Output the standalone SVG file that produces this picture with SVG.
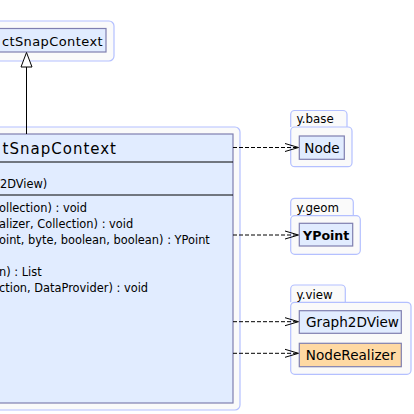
<svg xmlns="http://www.w3.org/2000/svg" width="414" height="414" viewBox="0 0 414 414">
<defs>
<style>
.pkg{fill:#fafafa;stroke:#b4c0ff;stroke-width:1.2}
.cls{fill:#e1ecff;stroke:#7f7fb0;stroke-width:1.2}
.rl{fill:#ffd9a3;stroke:#7f7fb0;stroke-width:1.2}
.sep{stroke:#000;stroke-width:1}
.t{font-family:"DejaVu Sans",sans-serif;fill:#000}
.m{font-size:11.4px}
.n{font-size:13.6px}
.p{font-size:11.8px}
.dep{fill:none;stroke:#000;stroke-width:1;stroke-dasharray:4,2}
.ah{fill:none;stroke:#000;stroke-width:1}
</style>
</defs>
<g id="pkg-top">
<rect class="pkg" x="-10" y="21" width="124" height="40" rx="5"/>
<g id="AbstractSnapContext">
<rect class="cls" x="-10" y="28.5" width="116" height="23.5"/>
<text class="t" x="103" y="46" font-size="13" text-anchor="end" letter-spacing="0.4">ctSnapContext</text>
</g>
</g>
<g id="pkg-main">
<rect class="pkg" x="-10" y="127" width="250" height="283" rx="5"/>
<g id="SnapContext">
<rect class="cls" x="-10" y="134" width="243" height="269"/>
<text class="t" x="117" y="154" font-size="15" text-anchor="end" letter-spacing="1">tSnapContext</text>
<line class="sep" x1="-10" y1="162" x2="233" y2="162"/>
<text class="t m" x="0" y="188">2DView)</text>
<line class="sep" x1="-10" y1="195" x2="233" y2="195"/>
<text class="t m" x="-1" y="212">ollection) : void</text>
<text class="t m" x="-1" y="228">alizer, Collection) : void</text>
<text class="t m" x="-1" y="244">oint, byte, boolean, boolean) : YPoint</text>
<text class="t m" x="-1" y="276">n) : List</text>
<text class="t m" x="-1" y="292">ction, DataProvider) : void</text>
</g>
</g>
<g id="pkg-ybase">
<path class="pkg" d="M290.7,127 V114.5 a4,4 0 0 1 4,-4 H343 a4,4 0 0 1 4,4 V127"/>
<rect class="pkg" x="290.7" y="127" width="61.3" height="39.7" rx="4"/>
<text class="t p" x="296.5" y="123">y.base</text>
<g id="Node">
<rect class="cls" x="299.3" y="136" width="45" height="23.3"/>
<text class="t n" x="322" y="152.5" text-anchor="middle">Node</text>
</g>
</g>
<g id="pkg-ygeom">
<path class="pkg" d="M290.7,215.7 V202.3 a4,4 0 0 1 4,-4 H349.3 a4,4 0 0 1 4,4 V215.7"/>
<rect class="pkg" x="290.7" y="215.7" width="69.6" height="38.6" rx="4"/>
<text class="t p" x="296.5" y="211.5">y.geom</text>
<g id="YPoint">
<rect class="cls" x="299.3" y="223.3" width="53.4" height="22.7"/>
<text class="t" x="326.2" y="239.5" font-size="12.6" text-anchor="middle" font-weight="bold">YPoint</text>
</g>
</g>
<g id="pkg-yview">
<path class="pkg" d="M290.7,302.3 V289 a4,4 0 0 1 4,-4 H341.3 a4,4 0 0 1 4,4 V302.3"/>
<rect class="pkg" x="290.7" y="302.3" width="120.3" height="72" rx="4"/>
<text class="t p" x="296.5" y="298.5">y.view</text>
<g id="Graph2DView">
<rect class="cls" x="299.3" y="310.7" width="102" height="22.6"/>
<text class="t n" x="352.5" y="327" text-anchor="middle">Graph2DView</text>
</g>
<g id="NodeRealizer">
<rect class="rl" x="299.3" y="343.3" width="102" height="23.4"/>
<text class="t n" x="350.7" y="360" text-anchor="middle">NodeRealizer</text>
</g>
</g>
<g id="connectors">
<line x1="26.5" y1="67" x2="26.5" y2="134" stroke="#000" stroke-width="1"/>
<polygon points="26.5,52.5 21,67 32,67" fill="#fff" stroke="#000" stroke-width="1"/>
<line class="dep" x1="233" y1="147.5" x2="298.5" y2="147.5"/>
<polyline class="ah" points="285,143.5 298.5,147.5 285,151.5"/>
<line class="dep" x1="233" y1="235" x2="298.5" y2="235"/>
<polyline class="ah" points="285,231 298.5,235 285,239"/>
<line class="dep" x1="233" y1="321.7" x2="298.5" y2="321.7"/>
<polyline class="ah" points="285,317.7 298.5,321.7 285,325.7"/>
<line class="dep" x1="233" y1="353.3" x2="298.5" y2="353.3"/>
<polyline class="ah" points="285,349.3 298.5,353.3 285,357.3"/>
</g>
</svg>
